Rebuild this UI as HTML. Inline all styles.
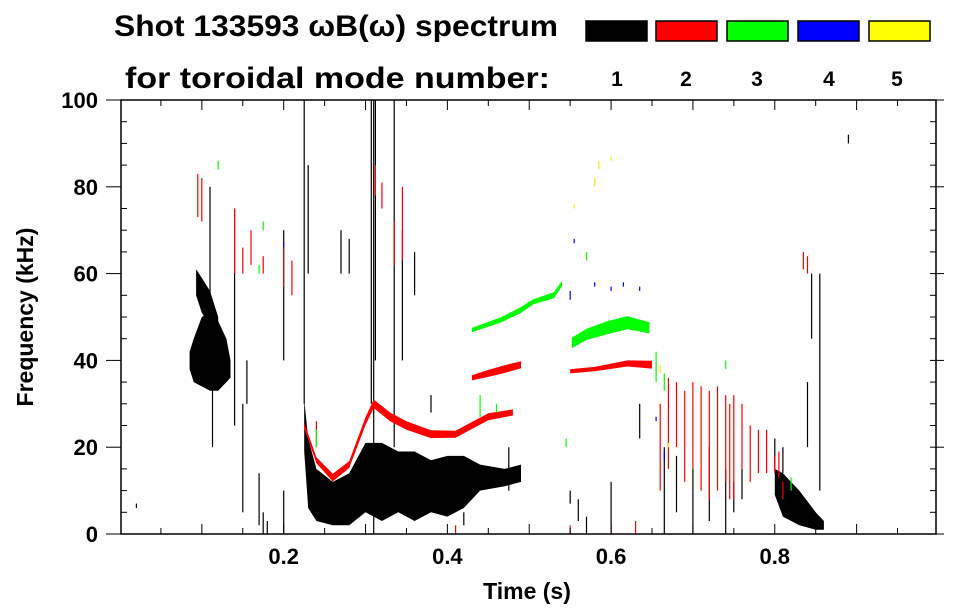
<!DOCTYPE html>
<html><head><meta charset="utf-8">
<style>
html,body{margin:0;padding:0;background:#fff;}
svg{display:block;font-family:"Liberation Sans",sans-serif;font-weight:bold;}
</style></head>
<body>
<svg id="chart" width="963" height="615" viewBox="0 0 963 615" xmlns="http://www.w3.org/2000/svg">
<text x="114" y="36" font-size="30" textLength="444" lengthAdjust="spacingAndGlyphs">Shot 133593 ωB(ω) spectrum</text>
<text x="125" y="88" font-size="30" textLength="425" lengthAdjust="spacingAndGlyphs">for toroidal mode number:</text>
<g id="legend"></g>
<g id="marks"></g>
<rect x="121" y="100" width="815" height="434" fill="none" stroke="#000" stroke-width="1.5"/>
<g id="axes"></g>
<text x="527" y="599" font-size="23" text-anchor="middle">Time (s)</text>
<text transform="translate(33,317) rotate(-90)" font-size="23" text-anchor="middle">Frequency (kHz)</text>
</svg>
<script>
const modeNames=['1','2','3','4','5'];
const modeColors=['#000000','#ff0000','#00ff00','#0000ff','#ffff00'];
const xTicks=[0.2,0.4,0.6,0.8];
const yTicks=[0,20,40,60,80,100];
// ridges: [t, centerFreq, halfWidth]
const blackBlob=[[0.085,40,2],[0.09,40,5],[0.10,42,8],[0.11,42,9],[0.12,41,8],[0.13,40,5],[0.135,38,2]];
const blackDiag=[[0.093,58,3],[0.10,55,4],[0.11,52,4],[0.12,47,3]];
const blackBand=[[0.225,25,6],[0.23,14,8],[0.24,9,6],[0.26,7,5],[0.28,8,6],[0.30,13,8],[0.32,12,9],[0.34,12,7],[0.36,11,8],[0.38,11,6],[0.40,11,7],[0.42,12,6],[0.44,13,3],[0.47,13,2],[0.49,14,2]];
const blackLate=[[0.80,12,3],[0.81,9,5],[0.83,6,4],[0.85,3,2],[0.86,2,1]];
const redLineA=[[0.225,25,0.7],[0.24,17,0.7],[0.26,13,0.9],[0.28,16,0.8],[0.30,26,0.9],[0.31,30,1],[0.33,27,1],[0.35,25,1],[0.38,23,0.9],[0.41,23,0.8],[0.43,25,0.8],[0.45,27,0.8],[0.48,28,0.7]];
const redLineB=[[0.43,36,0.6],[0.45,37,0.8],[0.47,38,0.9],[0.49,39,0.8]];
const redLineC=[[0.55,37.5,0.5],[0.58,38,0.5],[0.62,39.3,0.7],[0.65,39,0.9]];
const greenLineD=[[0.43,47,0.5],[0.465,49.3,0.6],[0.489,51.5,0.7],[0.505,53.5,0.6],[0.53,55,0.7],[0.54,57.7,0.6]];
const greenLineE=[[0.552,44,1.2],[0.57,46,1.3],[0.595,47.5,1.5],[0.62,48.7,1.5],[0.647,47.5,1.3]];
// streaks: [t, f0, f1]
const blackStreaks=[[0.11,50,80],[0.113,20,50],[0.14,25,75],[0.15,5,30],[0.155,30,40],[0.175,0,5],[0.18,0,3],[0.225,30,100],[0.23,60,85],[0.28,60,68],[0.307,30,100],[0.31,0,100],[0.312,40,100],[0.335,20,100],[0.345,40,70],[0.36,55,65],[0.56,3,8],[0.57,0,4],[0.6,0,12],[0.665,0,20],[0.68,5,18],[0.7,0,15],[0.72,3,20],[0.74,0,15],[0.75,5,12],[0.76,8,15],[0.84,20,35],[0.845,45,60],[0.855,10,60],[0.89,90,92],[0.02,6,7],[0.17,2,14],[0.2,0,10],[0.2,40,70],[0.27,60,70],[0.38,28,32],[0.42,2,5],[0.475,10,20],[0.55,7,10],[0.635,22,30],[0.8,15,22],[0.81,14,20]];
const redStreaks=[[0.095,73,83],[0.1,72,82],[0.14,60,75],[0.15,60,66],[0.16,62,70],[0.175,60,64],[0.2,57,66],[0.24,20,26],[0.21,55,63],[0.312,78,85],[0.32,75,81],[0.335,62,72],[0.345,63,80],[0.41,0,2],[0.55,0,2],[0.6,0,2],[0.63,0,3],[0.66,10,30],[0.67,15,36],[0.68,20,35],[0.69,12,33],[0.7,15,35],[0.71,10,34],[0.72,8,33],[0.73,10,34],[0.74,12,32],[0.745,8,30],[0.75,8,32],[0.76,15,30],[0.77,12,25],[0.78,14,24],[0.79,14,24],[0.8,14,18],[0.805,13,19],[0.81,8,12],[0.84,60,64],[0.835,61,65]];
const greenStreaks=[[0.12,84,86],[0.175,70,72],[0.17,60,62],[0.24,20,24],[0.44,27,32],[0.46,28,30],[0.655,35,42],[0.665,33,37],[0.82,10,13],[0.57,63,65],[0.545,20,22],[0.74,38,40]];
const blueStreaks=[[0.2,66,67],[0.555,67,68],[0.58,57,58],[0.6,56,57],[0.615,57,58],[0.635,56,57],[0.655,26,27],[0.665,17,19],[0.55,54,56]];
const yellowStreaks=[[0.58,80,82],[0.585,84,86],[0.6,86,87],[0.555,75,76],[0.66,37,39],[0.67,20,21]];

const NS='http://www.w3.org/2000/svg';
const X0=121,X1=936,Y0=534,Y1=100,T1=0.997,F1=100;
function xs(t){return 120+(X1-120)*t/T1;}
function ys(f){return Y0-(Y0-Y1)*f/F1;}
const marks=document.getElementById('marks');
const axes=document.getElementById('axes');
const legend=document.getElementById('legend');

function ridge(arr,color,name){
  const up=arr.map(p=>xs(p[0]).toFixed(1)+','+ys(p[1]+p[2]).toFixed(1));
  const dn=arr.slice().reverse().map(p=>xs(p[0]).toFixed(1)+','+ys(p[1]-p[2]).toFixed(1));
  const el=document.createElementNS(NS,'polygon');
  el.setAttribute('points',up.concat(dn).join(' '));
  el.setAttribute('fill',color);
  
  
  marks.appendChild(el);
}
function streaks(arr,color,name){
  arr.forEach(s=>{
    const el=document.createElementNS(NS,'rect');
    el.setAttribute('x',(xs(s[0])-0.6).toFixed(1));
    el.setAttribute('y',ys(s[2]).toFixed(1));
    el.setAttribute('width','1.2');
    el.setAttribute('height',Math.max(1.5,ys(s[1])-ys(s[2])).toFixed(1));
    el.setAttribute('fill',color);
    
    
    marks.appendChild(el);
  });
}
ridge(blackBlob,'#000','mode1-blob');
ridge(blackDiag,'#000','mode1-diagonal');
ridge(blackBand,'#000','mode1-band');
ridge(blackLate,'#000','mode1-late');
streaks(blackStreaks,'#000','mode1-streak');
ridge(redLineA,'#f00','mode2-line-a');
ridge(redLineB,'#f00','mode2-line-b');
ridge(redLineC,'#f00','mode2-line-c');
streaks(redStreaks,'#f00','mode2-streak');
ridge(greenLineD,'#0f0','mode3-line-d');
ridge(greenLineE,'#0f0','mode3-line-e');
streaks(greenStreaks,'#0f0','mode3-streak');
streaks(blueStreaks,'#00f','mode4-streak');
streaks(yellowStreaks,'#ee0','mode5-streak');

function line(x1,y1,x2,y2,name){
  const el=document.createElementNS(NS,'line');
  el.setAttribute('x1',x1);el.setAttribute('y1',y1);el.setAttribute('x2',x2);el.setAttribute('y2',y2);
  el.setAttribute('stroke','#000');el.setAttribute('stroke-width','1');
  
  
  axes.appendChild(el);
}
function text(x,y,s,anchor,name){
  const el=document.createElementNS(NS,'text');
  el.setAttribute('x',x);el.setAttribute('y',y);el.setAttribute('font-size','22');
  el.setAttribute('text-anchor',anchor);el.textContent=s;
  
  
  axes.appendChild(el);
}
for(let t=0.05;t<0.99;t+=0.05){
  const major=Math.abs(t*10-Math.round(t*10))<0.01;
  const x=xs(t), L=major?10:6;
  line(x,Y0,x,Y0-L,'x-tick');
  line(x,Y1,x,Y1+L,'x-tick-top');
}
xTicks.forEach(t=>text(xs(t),564,t.toFixed(1),'middle','x-tick-label'));
for(let f=0;f<=100;f+=5){
  const major=f%20===0, y=ys(f);
  line(major?106:X0,y,X0+(major?0:6),y,'y-tick');
  line(X1-6,y,X1+(major?8:0),y,'y-tick-right');
}
yTicks.forEach(f=>text(98,ys(f)+8,String(f),'end','y-tick-label'));

const lx=[586,656,727,798,869];
const lnum=[617,686,757,829,897];
modeNames.forEach((m,i)=>{
  const r=document.createElementNS(NS,'rect');
  r.setAttribute('x',lx[i]);r.setAttribute('y',21);r.setAttribute('width',61);r.setAttribute('height',20);
  r.setAttribute('fill',modeColors[i]);r.setAttribute('stroke','#000');r.setAttribute('stroke-width','1.5');
  
  
  legend.appendChild(r);
  const t=document.createElementNS(NS,'text');
  t.setAttribute('x',lnum[i]);t.setAttribute('y',86);t.setAttribute('font-size','21');t.setAttribute('text-anchor','middle');
  t.textContent=m;
  
  
  legend.appendChild(t);
});
</script>
</body></html>
